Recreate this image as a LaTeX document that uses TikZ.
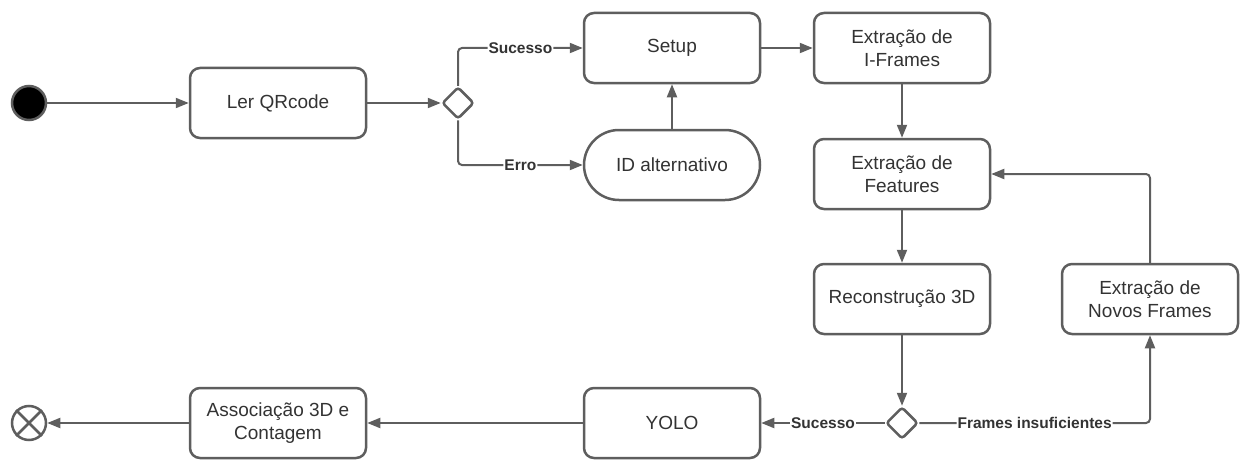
\documentclass[tikz,border=0pt]{standalone}
\usepackage{fontspec}
\setmainfont{Liberation Sans}
\usetikzlibrary{arrows.meta,shapes.geometric}
\definecolor{ln}{HTML}{5E5E5E}
\definecolor{tx}{HTML}{333333}
\begin{document}
\begin{tikzpicture}[x=1pt,y=-1pt,
  box/.style={draw=ln,line width=2.5pt,rounded corners=10pt,minimum width=176pt,minimum height=70pt,align=center,font=\fontsize{19}{23}\selectfont,text=tx,inner sep=0pt,fill=white},
  stadium/.style={box,rounded corners=35pt},
  dec/.style={diamond,draw=ln,line width=2.5pt,minimum width=32pt,minimum height=32pt,inner sep=0pt,rounded corners=3pt},
  conn/.style={draw=ln,line width=2pt,rounded corners=4pt,-{Triangle[length=13pt,width=10pt]}},
  lbl/.style={fill=white,inner sep=1pt,font=\bfseries\fontsize{15.5}{18}\selectfont,text=tx}
]
\useasboundingbox (0,0) rectangle (1242,460);
\node[circle,fill=black,draw=ln,line width=2.5pt,minimum size=34pt,inner sep=0pt] (start) at (29,103) {};
\node[box] (ler) at (278,103) {Ler QRcode};
\node[dec] (d1) at (458,103) {};
\node[box] (setup) at (672,48) {Setup};
\node[stadium] (alt) at (672,165) {ID alternativo};
\node[box] (ifr) at (902,48) {Extração de\\I-Frames};
\node[box] (feat) at (902,174) {Extração de\\Features};
\node[box] (rec) at (902,299) {Reconstrução 3D};
\node[box] (novos) at (1150,299) {Extração de\\Novos Frames};
\node[dec] (d2) at (902,423) {};
\node[box] (yolo) at (672,423) {YOLO};
\node[box] (assoc) at (278,423) {Associação 3D e\\Contagem};
\node[circle,draw=ln,line width=2.5pt,minimum size=34pt,inner sep=0pt] (fin) at (29,423) {};
\draw[ln,line width=2.5pt] (fin.45) -- (fin.225) (fin.135) -- (fin.315);

\draw[conn] (start) -- (ler);
\draw[conn] (ler) -- (d1);
\draw[conn] (d1.north) |- node[lbl,pos=0.75]{Sucesso} (setup.west);
\draw[conn] (d1.south) |- node[lbl,pos=0.75]{Erro} (alt.west);
\draw[conn] (alt) -- (setup);
\draw[conn] (setup) -- (ifr);
\draw[conn] (ifr) -- (feat);
\draw[conn] (feat) -- (rec);
\draw[conn] (rec) -- (d2);
\draw[conn] (d2) -- node[lbl]{Sucesso} (yolo);
\draw[conn] (d2.east) -| node[lbl,pos=0.25]{Frames insuficientes} (novos.south);
\draw[conn] (novos.north) |- (feat.east);
\draw[conn] (yolo) -- (assoc);
\draw[conn] (assoc) -- (fin);
\end{tikzpicture}
\end{document}
